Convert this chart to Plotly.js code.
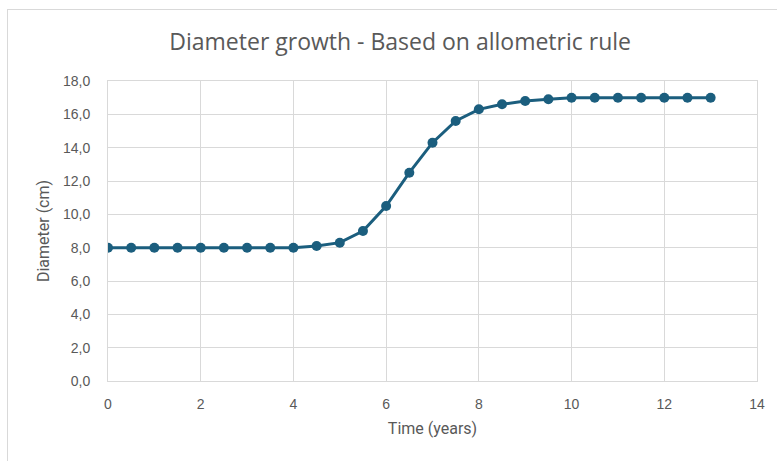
<!DOCTYPE html>
<html>
<head>
<meta charset="utf-8">
<script src="https://cdn.plot.ly/plotly-3.0.1.min.js"></script>
<style>
  html, body { margin: 0; padding: 0; background: #ffffff; overflow: hidden; }
  #chart { position: absolute; left: 0; top: 0; width: 777px; height: 461px; }
  #frame { position: absolute; left: 7px; top: 9px; width: 790px; height: 470px;
           border: 1px solid #d9d9d9; pointer-events: none; }
</style>
</head>
<body>
<div id="chart"></div>
<div id="frame"></div>
<script>
// Time in years and stem diameter in cm
const timeYears = [0, 0.5, 1, 1.5, 2, 2.5, 3, 3.5, 4, 4.5, 5, 5.5, 6, 6.5, 7, 7.5,
                   8, 8.5, 9, 9.5, 10, 10.5, 11, 11.5, 12, 12.5, 13];
const diameterCm = [8.0, 8.0, 8.0, 8.0, 8.0, 8.0, 8.0, 8.0, 8.0, 8.1, 8.3, 9.0, 10.5, 12.5, 14.3, 15.6,
                    16.3, 16.6, 16.8, 16.9, 17.0, 17.0, 17.0, 17.0, 17.0, 17.0, 17.0];

const chartTitle = "Diameter growth - Based on allometric rule";
const xTitle = "Time (years)";
const yTitle = "Diameter (cm)";

const lineColor = "#1b5e7e";
const textColor = "#595959";
const gridColor = "#d9d9d9";
const titleFont = "Open Sans, Liberation Sans, Arial, sans-serif";
const tickFont = "Liberation Sans, Arial, sans-serif";
const axisFont = "Roboto, Liberation Sans, Arial, sans-serif";

const trace = {
  x: timeYears,
  y: diameterCm,
  type: "scatter",
  mode: "lines+markers",
  line: { color: lineColor, width: 3 },
  marker: { color: lineColor, size: 10 },
  hoverinfo: "x+y"
};

const layout = {
  width: 777,
  height: 461,
  margin: { l: 108, r: 20, t: 81, b: 80 },
  paper_bgcolor: "#ffffff",
  plot_bgcolor: "#ffffff",
  separators: ",.",
  showlegend: false,
  font: { family: tickFont, color: textColor, size: 14 },
  title: {
    text: chartTitle,
    font: { family: titleFont, size: 23, color: textColor },
    xref: "container", x: 0.515, xanchor: "center",
    yref: "container", y: 0.91, yanchor: "middle"
  },
  xaxis: {
    range: [0, 14],
    tick0: 0, dtick: 2,
    showgrid: true, gridcolor: gridColor, gridwidth: 1,
    zeroline: false,
    showline: true, linecolor: gridColor, linewidth: 1, mirror: true,
    ticks: "", ticklen: 0,
    ticklabelstandoff: 10,
    tickfont: { family: tickFont, size: 14, color: textColor },
    title: { text: xTitle, font: { family: axisFont, size: 16, color: textColor }, standoff: 12 }
  },
  yaxis: {
    range: [0, 18],
    tick0: 0, dtick: 2,
    tickformat: ".1f",
    showgrid: true, gridcolor: gridColor, gridwidth: 1,
    zeroline: false,
    showline: true, linecolor: gridColor, linewidth: 1, mirror: true,
    ticks: "", ticklen: 0,
    ticklabelstandoff: 14,
    tickfont: { family: tickFont, size: 14, color: textColor },
    title: { text: yTitle, font: { family: axisFont, size: 16, color: textColor }, standoff: 9 }
  }
};

Plotly.newPlot("chart", [trace], layout, { displayModeBar: false, staticPlot: true });
</script>
</body>
</html>
